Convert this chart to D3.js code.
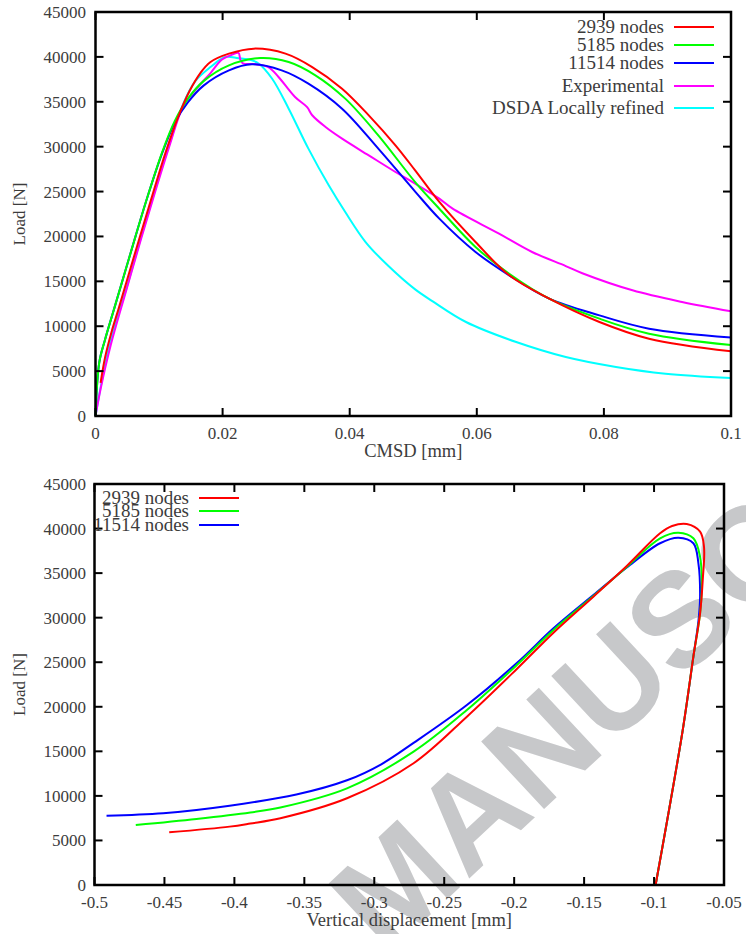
<!DOCTYPE html>
<html>
<head>
<meta charset="utf-8">
<script src="https://cdn.jsdelivr.net/npm/d3@7"></script>
<style>
  body { margin: 0; background: #fff; }
  svg { display: block; }
  text { font-family: "Liberation Serif", "DejaVu Serif", serif; fill: #3c3c3c; }
</style>
</head>
<body>
<svg id="chart" width="746" height="934"></svg>
<script>
// ---- top panel: load vs CMSD ----
var cmsdTicks = [0, 0.02, 0.04, 0.06, 0.08, 0.1];
var loadTicks = [0, 5000, 10000, 15000, 20000, 25000, 30000, 35000, 40000, 45000];

var cmsd2939 = [0.0008, 0.0015, 0.0025, 0.0037, 0.0062, 0.0087, 0.011, 0.013, 0.0148, 0.0165, 0.0181, 0.021, 0.0249, 0.0299, 0.0341, 0.0388, 0.043, 0.0472, 0.0503, 0.0541, 0.0598, 0.0651, 0.0714, 0.0793, 0.0871, 0.1];
var load2939 = [3700, 6500, 9300, 12100, 18100, 24000, 29300, 33300, 36200, 38200, 39430, 40360, 40920, 40360, 38870, 36460, 33490, 30150, 27360, 23840, 19380, 15670, 13070, 10470, 8610, 7200];

var cmsd5185 = [0, 0.0006, 0.0015, 0.003, 0.0055, 0.008, 0.0105, 0.0125, 0.0145, 0.017, 0.021, 0.0259, 0.0304, 0.0346, 0.0393, 0.0445, 0.0503, 0.0541, 0.0598, 0.0651, 0.0714, 0.0793, 0.0871, 0.1];
var load5185 = [0, 6000, 8500, 12100, 18100, 24000, 29400, 32900, 35300, 37300, 39060, 39876, 39430, 37950, 35350, 31260, 26060, 23090, 18830, 15850, 13070, 10840, 9170, 7900];

var cmsd11514 = [0, 0.0006, 0.0015, 0.003, 0.0055, 0.008, 0.0105, 0.0125, 0.0145, 0.017, 0.021, 0.0246, 0.0293, 0.0335, 0.0388, 0.0445, 0.0503, 0.0541, 0.0598, 0.0651, 0.0714, 0.0793, 0.0871, 0.1];
var load11514 = [0, 6000, 8500, 12100, 18100, 24000, 29300, 32700, 34900, 36800, 38500, 39170, 38500, 37020, 34230, 29780, 25000, 21980, 18270, 15670, 13070, 11210, 9730, 8750];

var cmsdExp = [0, 0.0008, 0.0024, 0.0048, 0.0072, 0.0094, 0.0116, 0.0138, 0.0157, 0.0181, 0.0199, 0.0215, 0.0225, 0.0228, 0.0232, 0.025, 0.0272, 0.0288, 0.0314, 0.0333, 0.0341, 0.0362, 0.0388, 0.043, 0.0472, 0.0503, 0.0541, 0.0562, 0.0635, 0.0687, 0.074, 0.0766, 0.0845, 0.0923, 0.1];
var loadExp = [0, 3000, 7900, 13900, 19800, 25000, 30000, 34500, 36300, 38200, 39700, 40250, 40450, 39700, 39290, 39200, 38870, 37760, 35530, 34400, 33500, 32190, 30890, 29030, 27180, 25880, 24210, 23090, 20310, 18270, 16700, 15900, 14000, 12700, 11660];

var cmsdDsda = [0, 0.0022, 0.0052, 0.0072, 0.0093, 0.0115, 0.0137, 0.0157, 0.0181, 0.0204, 0.0225, 0.0246, 0.0257, 0.0278, 0.0304, 0.0335, 0.0367, 0.0393, 0.0425, 0.0461, 0.0503, 0.053, 0.0583, 0.0662, 0.074, 0.0819, 0.0897, 0.1];
var loadDsda = [0, 7900, 15000, 20000, 25000, 30000, 34600, 37300, 38870, 39990, 39850, 39620, 39240, 37570, 34230, 29780, 25690, 22720, 19380, 16700, 14100, 12800, 10470, 8240, 6570, 5460, 4710, 4230];

// ---- bottom panel: load vs vertical displacement (in path order) ----
var dispTicks = [-0.5, -0.45, -0.4, -0.35, -0.3, -0.25, -0.2, -0.15, -0.1, -0.05];

var disp2939 = [-0.0989, -0.0795, -0.0719, -0.0671, -0.0652, -0.0643, -0.0671, -0.0766, -0.0871, -0.0957, -0.1195, -0.1434, -0.1719, -0.1981, -0.2338, -0.2719, -0.3195, -0.3671, -0.3886, -0.4034, -0.4466];
var vload2939 = [0, 17390, 25620, 30490, 34230, 37960, 39650, 40510, 40290, 39470, 35800, 32350, 28310, 24240, 18890, 13660, 9730, 7490, 6900, 6550, 5910];

var disp5185 = [-0.0989, -0.0795, -0.0719, -0.0671, -0.0659, -0.0671, -0.0719, -0.0826, -0.0957, -0.1195, -0.1434, -0.1719, -0.1981, -0.2338, -0.2719, -0.3195, -0.3671, -0.3886, -0.4271, -0.4705];
var vload5185 = [0, 17390, 25620, 30490, 33480, 36840, 38910, 39540, 38910, 35690, 32430, 28620, 24690, 19640, 14960, 10850, 8700, 8140, 7410, 6730];

var disp11514 = [-0.0989, -0.0795, -0.0719, -0.0682, -0.0671, -0.0683, -0.0719, -0.0826, -0.0957, -0.1195, -0.1434, -0.1719, -0.1981, -0.2338, -0.2719, -0.295, -0.3195, -0.3557, -0.4034, -0.4509, -0.4914];
var vload11514 = [0, 17390, 25620, 29740, 32350, 36100, 38350, 38970, 38350, 35630, 32540, 28810, 24910, 20200, 15950, 13550, 11750, 10150, 8900, 8050, 7780];

var svg = d3.select('#chart');

// watermark, under the plots
svg.append('text')
    .attr('transform', 'translate(385,957)rotate(-43)')
    .style('font-family', '"Liberation Sans", Arial, sans-serif')
    .style('font-weight', 'bold')
    .style('font-size', '134px')
    .style('fill', '#c7c8ca')
    .text('MANUSCRIPT');

function zip(xs, ys) {
    return xs.map(function (d, i) { return [d, ys[i]]; });
}

function drawPanel(p) {
    var x = d3.scaleLinear().domain(p.xDomain).range([p.left, p.right]);
    var y = d3.scaleLinear().domain([0, 45000]).range([p.bottom, p.top]);
    var g = svg.append('g');
    var tickLen = 8;

    var line = d3.line()
        .x(function (d) { return x(d[0]); })
        .y(function (d) { return y(d[1]); })
        .curve(d3.curveCatmullRom.alpha(0.5));

    // curves: first legend entry ends up on top
    p.series.slice().reverse().forEach(function (s) {
        g.append('path')
            .attr('d', line(zip(s.xs, s.ys)))
            .style('fill', 'none')
            .style('stroke', s.color)
            .style('stroke-width', 2);
    });

    // ticks, inward on all four sides
    p.xTicks.forEach(function (t) {
        g.append('line').attr('x1', x(t)).attr('x2', x(t)).attr('y1', p.bottom).attr('y2', p.bottom - tickLen)
            .style('stroke', '#000').style('stroke-width', 2);
        g.append('line').attr('x1', x(t)).attr('x2', x(t)).attr('y1', p.top).attr('y2', p.top + tickLen)
            .style('stroke', '#000').style('stroke-width', 2);
        g.append('text')
            .attr('x', x(t)).attr('y', p.bottom + 23)
            .attr('text-anchor', 'middle')
            .style('font-size', '17px')
            .text(t);
    });
    loadTicks.forEach(function (t) {
        g.append('line').attr('x1', p.left).attr('x2', p.left + tickLen).attr('y1', y(t)).attr('y2', y(t))
            .style('stroke', '#000').style('stroke-width', 2);
        g.append('line').attr('x1', p.right).attr('x2', p.right - tickLen).attr('y1', y(t)).attr('y2', y(t))
            .style('stroke', '#000').style('stroke-width', 2);
        g.append('text')
            .attr('x', 86).attr('y', y(t) + 6)
            .attr('text-anchor', 'end')
            .style('font-size', '17px')
            .text(t);
    });

    // frame
    g.append('rect')
        .attr('x', p.left).attr('y', p.top)
        .attr('width', p.right - p.left).attr('height', p.bottom - p.top)
        .style('fill', 'none').style('stroke', '#000').style('stroke-width', 2.5);

    // axis titles
    g.append('text')
        .attr('x', (p.left + p.right) / 2).attr('y', p.bottom + 41)
        .attr('text-anchor', 'middle')
        .style('font-size', '18.5px')
        .text(p.xLabel);
    g.append('text')
        .attr('transform', 'translate(25,' + (p.top + p.bottom) / 2 + ')rotate(-90)')
        .attr('text-anchor', 'middle')
        .style('font-size', '17px')
        .text('Load [N]');

    // legend
    p.series.forEach(function (s, i) {
        var ly = p.legendY[i];
        g.append('text')
            .attr('x', p.legendX).attr('y', ly + 6)
            .attr('text-anchor', 'end')
            .style('font-size', '19px')
            .text(s.name);
        g.append('line')
            .attr('x1', p.legendX + 10).attr('x2', p.legendX + 50)
            .attr('y1', ly).attr('y2', ly)
            .style('stroke', s.color).style('stroke-width', 2);
    });
}

drawPanel({
    left: 95.5, right: 731, top: 12, bottom: 416,
    xDomain: [0, 0.1],
    xTicks: cmsdTicks,
    xLabel: 'CMSD [mm]',
    legendX: 664, legendY: [27, 45, 63, 86, 108],
    series: [
        { name: '2939 nodes', color: '#ff0000', xs: cmsd2939, ys: load2939 },
        { name: '5185 nodes', color: '#00ff00', xs: cmsd5185, ys: load5185 },
        { name: '11514 nodes', color: '#0000ff', xs: cmsd11514, ys: load11514 },
        { name: 'Experimental', color: '#ff00ff', xs: cmsdExp, ys: loadExp },
        { name: 'DSDA Locally refined', color: '#00ffff', xs: cmsdDsda, ys: loadDsda }
    ]
});

drawPanel({
    left: 94.5, right: 724, top: 484, bottom: 885,
    xDomain: [-0.5, -0.05],
    xTicks: dispTicks,
    xLabel: 'Vertical displacement [mm]',
    legendX: 189, legendY: [498, 511, 525],
    series: [
        { name: '2939 nodes', color: '#ff0000', xs: disp2939, ys: vload2939 },
        { name: '5185 nodes', color: '#00ff00', xs: disp5185, ys: vload5185 },
        { name: '11514 nodes', color: '#0000ff', xs: disp11514, ys: vload11514 }
    ]
});
</script>
</body>
</html>
